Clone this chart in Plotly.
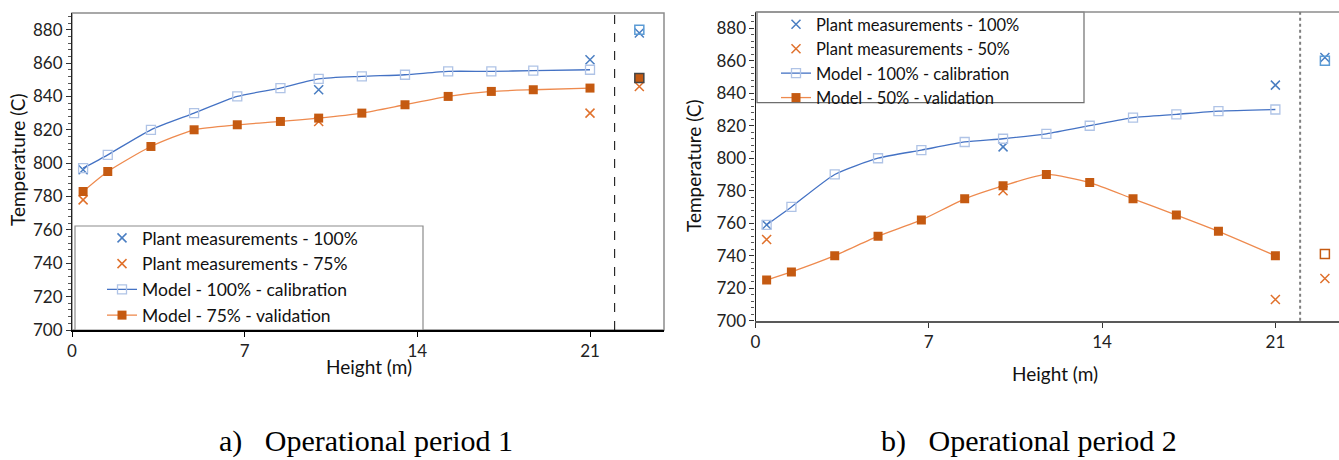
import plotly.graph_objects as go

# 模型节点高度 (m) 与测点高度
model_height = [0.45, 1.45, 3.2, 4.95, 6.7, 8.45, 10.0, 11.75, 13.5, 15.25, 17.0, 18.7, 21.0]
meas_height = [0.45, 10.0, 21.0, 23.0]
outlet_height = [23.0]

# 运行周期 1
p1_model_100 = [797, 805, 820, 830, 840, 845, 850.5, 852, 853, 855, 855, 855.5, 856]
p1_model_75 = [783, 795, 810, 820, 823, 825, 827, 830, 835, 840, 843, 844, 845]
p1_meas_100 = [796, 844, 862, 878]
p1_meas_75 = [778, 825, 830, 846]
p1_outlet_100 = [880]
p1_outlet_75 = [851]

# 运行周期 2
p2_model_100 = [759, 770, 790, 800, 805, 810, 812, 815, 820, 825, 827, 829, 830]
p2_model_50 = [725, 730, 740, 752, 762, 775, 783, 790, 785, 775, 765, 755, 740]
p2_meas_100 = [759, 807, 845, 862]
p2_meas_50 = [750, 780, 713, 726]
p2_outlet_100 = [860]
p2_outlet_50 = [741]

y_ticks = [700, 720, 740, 760, 780, 800, 820, 840, 860, 880]
x_ticks = [0, 7, 14, 21]

BLUE_X = '#4A7EC2'
ORANGE_X = '#E0712C'
BLUE_LINE = '#4472C4'
BLUE_SQ = '#AFC3E6'
ORANGE_LINE = '#EE8A4E'
ORANGE_SQ = '#C55A11'
OUTLET_BLUE = '#5B9BD5'

W, H = 1339, 460
FONT = 'Lato'


def add_panel(fig, xa, ya, legend, m100, mlow, meas100, measlow, out100, outlow, low_label, outlow_open):
    fig.add_trace(go.Scatter(
        x=meas_height, y=meas100, mode='markers', name='Plant measurements - 100%',
        marker=dict(symbol='x-thin', size=9, line=dict(color=BLUE_X, width=1.5)),
        xaxis=xa, yaxis=ya, legend=legend))
    fig.add_trace(go.Scatter(
        x=meas_height, y=measlow, mode='markers', name=f'Plant measurements - {low_label}',
        marker=dict(symbol='x-thin', size=9, line=dict(color=ORANGE_X, width=1.5)),
        xaxis=xa, yaxis=ya, legend=legend))
    fig.add_trace(go.Scatter(
        x=model_height, y=m100, mode='lines+markers', name='Model - 100% - calibration',
        line=dict(color=BLUE_LINE, width=1.3, shape='spline', smoothing=0.6),
        marker=dict(symbol='square-open', size=9, color=BLUE_SQ, line=dict(width=1.3)),
        xaxis=xa, yaxis=ya, legend=legend))
    fig.add_trace(go.Scatter(
        x=model_height, y=mlow, mode='lines+markers', name=f'Model - {low_label} - validation',
        line=dict(color=ORANGE_LINE, width=1.3, shape='spline', smoothing=0.6),
        marker=dict(symbol='square', size=9, color=ORANGE_SQ),
        xaxis=xa, yaxis=ya, legend=legend))
    # 出口点
    fig.add_trace(go.Scatter(
        x=outlet_height, y=out100, mode='markers', showlegend=False,
        marker=dict(symbol='square-open', size=9, color=OUTLET_BLUE, line=dict(width=1.5)),
        xaxis=xa, yaxis=ya))
    fig.add_trace(go.Scatter(
        x=outlet_height, y=outlow, mode='markers', showlegend=False,
        marker=dict(symbol='square-open' if outlow_open else 'square', size=9, color=ORANGE_SQ,
                    line=dict(width=1.5)),
        xaxis=xa, yaxis=ya))


fig = go.Figure()
add_panel(fig, 'x', 'y', 'legend', p1_model_100, p1_model_75, p1_meas_100, p1_meas_75,
          p1_outlet_100, p1_outlet_75, '75%', False)
add_panel(fig, 'x2', 'y2', 'legend2', p2_model_100, p2_model_50, p2_meas_100, p2_meas_50,
          p2_outlet_100, p2_outlet_50, '50%', True)

x_common = dict(tickvals=x_ticks, ticks='outside', ticklen=5, showgrid=False, zeroline=False,
                automargin=False, tickfont=dict(size=17, color='#222'))
y_common = dict(tickvals=y_ticks, range=[700, 890], ticks='outside', ticklen=5, tickcolor='#333',
                showgrid=False, zeroline=False, showline=True, linecolor='#222', linewidth=1.2,
                automargin=False,
                minor=dict(dtick=4, tick0=700, ticks='outside', ticklen=3, tickcolor='#555'),
                tickfont=dict(size=17, color='#222'))

fig.update_layout(
    width=W, height=H,
    paper_bgcolor='white', plot_bgcolor='white',
    margin=dict(l=0, r=0, t=0, b=0),
    font=dict(family=FONT, color='#111'),
    xaxis=dict(domain=[72 / W, 664 / W], range=[0, 24], anchor='y', showline=True,
               linecolor='black', linewidth=1.6, tickcolor='black', **x_common),
    yaxis=dict(domain=[1 - 330 / H, 1 - 13 / H], anchor='x', **y_common),
    xaxis2=dict(domain=[755.5 / W, 1.0], range=[0, 23.57], anchor='y2', showline=True,
                linecolor='#595959', linewidth=2, tickcolor='#333', **x_common),
    yaxis2=dict(domain=[1 - 320.7 / H, 1 - 12 / H], anchor='x2', **y_common),
    legend=dict(x=102 / W, y=1 - 220 / H, xanchor='left', yanchor='top',
                bgcolor='rgba(0,0,0,0)', borderwidth=0, itemwidth=30,
                font=dict(size=17.5, color='#111')),
    legend2=dict(x=776 / W, y=1 - 7 / H, xanchor='left', yanchor='top',
                 bgcolor='rgba(0,0,0,0)', borderwidth=0, itemwidth=30,
                 font=dict(size=16.5, color='#111')),
)

shapes = [
    # 图框 (上、右边框)
    dict(type='rect', xref='x domain', yref='y domain', x0=0, x1=1, y0=0, y1=1,
         line=dict(color='#8C8C8C', width=1.5), layer='below'),
    dict(type='line', xref='x2 domain', yref='y2 domain', x0=0, x1=1, y0=1, y1=1,
         line=dict(color='#8C8C8C', width=1.5)),
    # 图例框
    dict(type='rect', xref='paper', yref='paper', x0=75 / W, x1=423 / W, y0=1 - 330 / H, y1=1 - 226 / H,
         line=dict(color='#8C8C8C', width=1.2), fillcolor='white', layer='below'),
    dict(type='rect', xref='paper', yref='paper', x0=757 / W, x1=1084 / W, y0=1 - 102.7 / H, y1=1 - 12 / H,
         line=dict(color='#6E6E6E', width=1.2), fillcolor='white', layer='below'),
    # 出口分隔虚线
    dict(type='line', xref='x', yref='y domain', x0=22, x1=22, y0=0, y1=1,
         line=dict(color='black', width=1, dash='dash')),
    dict(type='line', xref='x2', yref='y2 domain', x0=22, x1=22, y0=0, y1=1,
         line=dict(color='#7F7F7F', width=2, dash='dot')),
]
fig.update_layout(shapes=shapes)

annotations = [
    dict(text='Height (m)', x=369 / W, y=1 - 366 / H, showarrow=False, font=dict(size=19)),
    dict(text='Height (m)', x=1055 / W, y=1 - 373 / H, showarrow=False, font=dict(size=19)),
    dict(text='Temperature (C)', x=17 / W, y=1 - 160 / H, textangle=-90, showarrow=False,
         font=dict(size=19)),
    dict(text='Temperature (C)', x=693 / W, y=1 - 165 / H, textangle=-90, showarrow=False,
         font=dict(size=19)),
    dict(text='a)\u00a0\u00a0\u00a0Operational period 1', x=366 / W, y=1 - 441 / H, showarrow=False,
         font=dict(family='Liberation Serif', size=30, color='black')),
    dict(text='b)\u00a0\u00a0\u00a0Operational period 2', x=1029 / W, y=1 - 441 / H, showarrow=False,
         font=dict(family='Liberation Serif', size=30, color='black')),
]
for a in annotations:
    a.update(xref='paper', yref='paper', xanchor='center', yanchor='middle')
fig.update_layout(annotations=annotations)

# 去掉页面默认边距，让图从左上角开始；隐藏工具栏
fig.write_html("out.html", config={'displayModeBar': False},
               post_script="document.body.style.margin='0';")
